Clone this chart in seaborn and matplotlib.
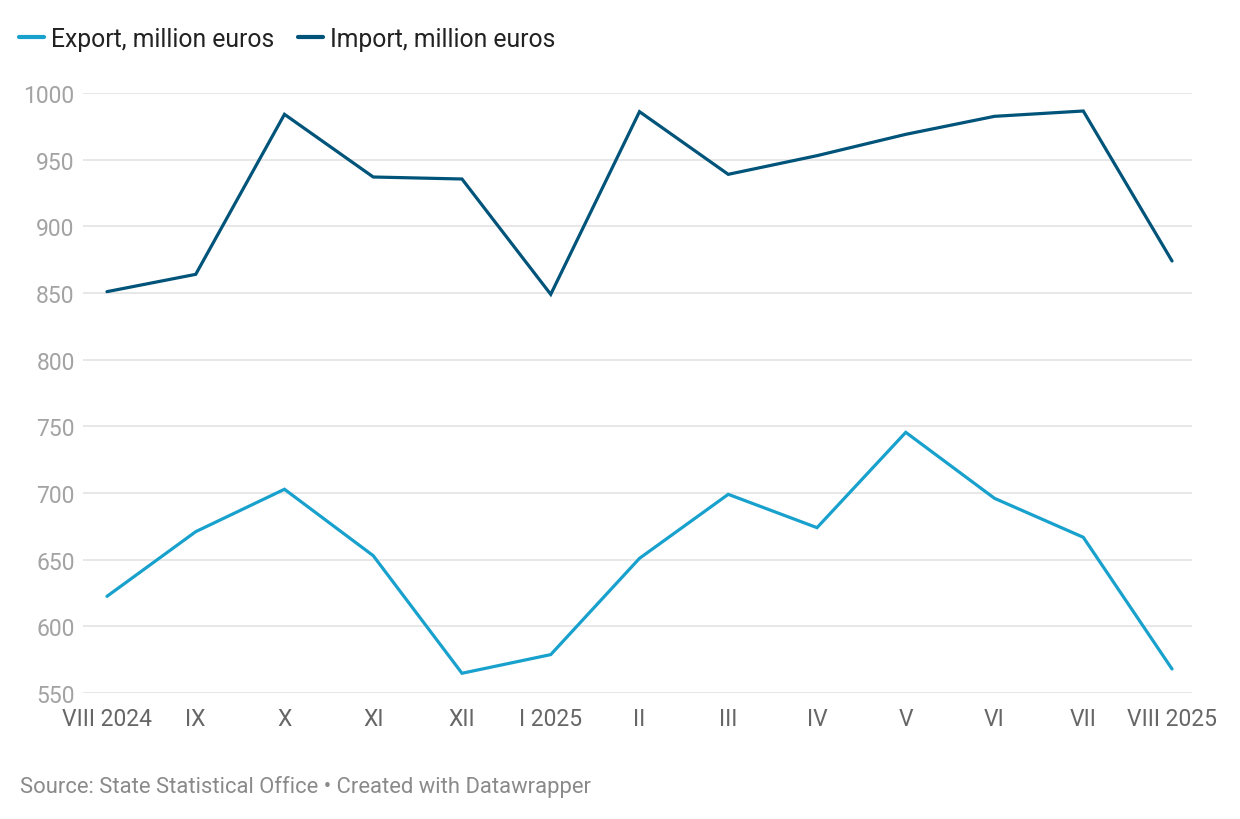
import numpy as np
import pandas as pd
import matplotlib
matplotlib.use("Agg")
import matplotlib.pyplot as plt
import seaborn as sns

# ------------------------
# Data
# ------------------------
months = ["VIII 2024", "IX", "X", "XI", "XII", "I 2025", "II",
          "III", "IV", "V", "VI", "VII", "VIII 2025"]
export_vals = [622.5, 671, 702.8, 653, 564.8, 578.8, 651,
               699, 674, 745.5, 696, 666.8, 568]
import_vals = [851, 864, 984, 937, 935.5, 849, 986,
               939, 953, 969, 982.5, 986.5, 874]
series_names = ["Export, million euros", "Import, million euros"]
y_ticks = [550, 600, 650, 700, 750, 800, 850, 900, 950, 1000]

colors = {series_names[0]: "#18a1cd", series_names[1]: "#00547a"}

df = pd.DataFrame({
    "idx": list(range(len(months))) * 2,
    "value": export_vals + import_vals,
    "series": [series_names[0]] * len(months) + [series_names[1]] * len(months),
})

# ------------------------
# Style
# ------------------------
sns.set_style("white")
plt.rcParams["font.family"] = ["Roboto", "DejaVu Sans"]

fig = plt.figure(figsize=(12.4, 8.2), dpi=100)
ax = fig.add_axes([83 / 1240, 1 - 694 / 820, (1192 - 83) / 1240, 600 / 820])

sns.lineplot(data=df, x="idx", y="value", hue="series", palette=colors,
             linewidth=2.3, sort=False, ax=ax, legend=False,
             solid_capstyle="round", solid_joinstyle="miter", zorder=3)
for ln in ax.lines:
    ln.set_clip_on(False)

ax.set_xlim(-0.27, len(months) - 1 + 0.225)
ax.set_ylim(550, 1000)
ax.set_yticks(y_ticks)
ax.set_yticklabels([str(v) for v in y_ticks])
ax.set_xticks(range(len(months)))
ax.set_xticklabels(months)

ax.grid(axis="y", color="#e3e3e3", linewidth=1.2, zorder=0)
ax.grid(axis="x", visible=False)
for s in ax.spines.values():
    s.set_visible(False)

ax.tick_params(axis="y", length=0, pad=6, labelsize=16.5, labelcolor="#a3a3a3")
ax.tick_params(axis="x", length=0, pad=10, labelsize=16.5, labelcolor="#666666")
ax.set_xlabel("")
ax.set_ylabel("")

# legend on top
handles = [plt.Line2D([], [], color=colors[n], linewidth=3.0, solid_capstyle="round")
           for n in series_names]
fig.legend(handles, series_names, loc="center left", bbox_to_anchor=(19 / 1240, 1 - 40 / 820),
           ncol=2, frameon=False, fontsize=17.8, handlelength=1.0, handletextpad=0.3,
           columnspacing=0.95, labelcolor="#222222", borderaxespad=0, borderpad=0)

fig.text(20 / 1240, 1 - 787 / 820, "Source: State Statistical Office \u2022 Created with Datawrapper",
         fontsize=15.8, color="#8a8a8a", va="center", ha="left")

fig.savefig("out.png", dpi=100, facecolor="white")
